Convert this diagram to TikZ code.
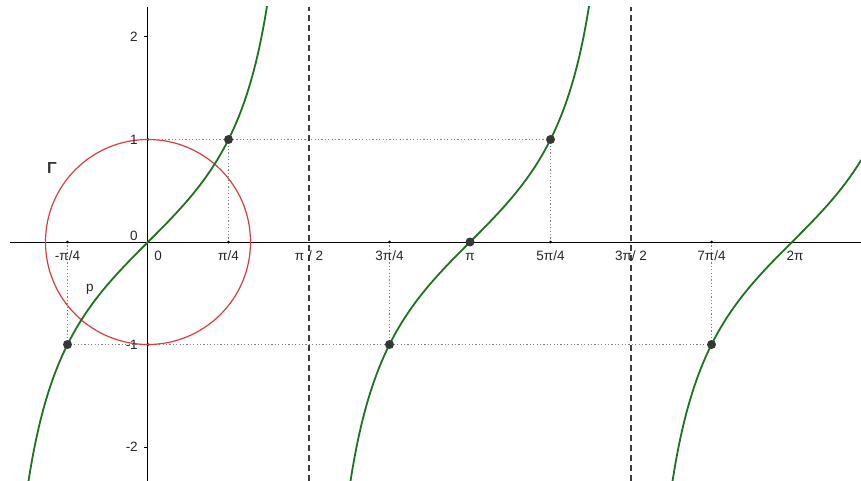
\documentclass[tikz,border=0pt]{standalone}
\usepackage{fontspec}
\setmainfont{Liberation Sans}
\definecolor{curvegreen}{RGB}{30,115,30}
\definecolor{circred}{RGB}{222,60,60}
\definecolor{ptgray}{RGB}{55,55,55}
\definecolor{dotgray}{RGB}{130,130,130}
\definecolor{asygray}{RGB}{60,60,60}
\begin{document}
\begin{tikzpicture}[x=102.5bp,y=102.5bp,
  font=\fontsize{13.5bp}{16bp}\selectfont,
  axisline/.style={line width=1bp,black},
  asym/.style={line width=1.2bp,asygray,dash pattern=on 6bp off 4bp},
  guide/.style={line width=1bp,dotgray,dash pattern=on 1.2bp off 2.2bp},
  tanplot/.style={line width=1.8bp,curvegreen,smooth,samples=150},
  bigpt/.style={circle,fill=ptgray,inner sep=0pt,minimum size=9bp},
  smallpt/.style={circle,fill=black,inner sep=0pt,minimum size=3bp},
  xlab/.style={anchor=base,inner sep=0pt,text=black!85},
  ylab/.style={anchor=east,inner sep=0pt,text=black!85}]
\useasboundingbox (-1.4439,-2.3317) rectangle (6.9561,2.3610);
\fill[white] (-1.4439,-2.3317) rectangle (6.9561,2.3610);
% guides
\draw[guide] (0,1) -- (5*pi/4,1);
\draw[guide] (-pi/4,-1) -- (7*pi/4,-1);
\draw[guide] (pi/4,0) -- (pi/4,1);
\draw[guide] (5*pi/4,0) -- (5*pi/4,1);
\draw[guide] (-pi/4,0) -- (-pi/4,-1);
\draw[guide] (3*pi/4,0) -- (3*pi/4,-1);
\draw[guide] (7*pi/4,0) -- (7*pi/4,-1);
% asymptotes
\draw[asym] (pi/2,-2.3317) -- (pi/2,2.293);
\draw[asym] (3*pi/2,-2.3317) -- (3*pi/2,2.293);
% axes
\draw[axisline] (-1.346,0) -- (6.9561,0);
\draw[axisline] (0,-2.3317) -- (0,2.293);
\foreach \yy in {-2,-1,1,2} \draw[line width=1bp] (-0.035,\yy) -- (0,\yy);
\foreach \xx in {-1,1,3,5,7} \node[smallpt] at ({\xx*pi/4},0) {};
\node[smallpt] (p1) at (0,1) {};
\node[smallpt] (m1) at (0,-1) {};
% circle
\draw[circred,line width=1.2bp] (0,0) circle (1);
% tangent
\begin{scope}
\clip (-1.4439,-2.3317) rectangle (6.9561,2.293);
\draw[tanplot,domain=-1.2:1.2] plot (\x,{tan(\x r)});
\draw[tanplot,domain=pi-1.2:pi+1.2] plot (\x,{tan(\x r)});
\draw[tanplot,domain=2*pi-1.2:6.96] plot (\x,{tan(\x r)});
\end{scope}
% points
\node[bigpt] (A) at (pi/4,1) {};
\node[bigpt] (B) at (5*pi/4,1) {};
\node[bigpt] (C) at (-pi/4,-1) {};
\node[bigpt] (D) at (3*pi/4,-1) {};
\node[bigpt] (E) at (7*pi/4,-1) {};
\node[bigpt] (F) at (pi,0) {};
% x labels
\node[xlab] (lm) at (-pi/4,-0.176) {-π/4};
\node[xlab] (l0) at (0.098,-0.176) {0};
\node[xlab] (l1) at (pi/4,-0.176) {π/4};
\node[xlab] (l2) at (pi/2,-0.176) {π / 2};
\node[xlab] (l3) at (3*pi/4,-0.176) {3π/4};
\node[xlab] (l4) at (pi,-0.176) {π};
\node[xlab] (l5) at (5*pi/4,-0.176) {5π/4};
\node[xlab] (l6) at (3*pi/2,-0.176) {3π/ 2};
\node[xlab] (l7) at (7*pi/4,-0.176) {7π/4};
\node[xlab] (l8) at (2*pi+0.03,-0.176) {2π};
% y labels
\node[ylab] (y2) at (-0.098,2) {2};
\node[ylab] (y1) at (-0.098,1) {1};
\node[ylab] (y0) at (-0.098,0.059) {0};
\node[ylab] (ym1) at (-0.098,-1) {-1};
\node[ylab] (ym2) at (-0.098,-2) {-2};
% names
\node[font=\fontsize{16bp}{18bp}\selectfont\bfseries,text=black!80] (gam) at (-0.937,0.722) {Γ};
\node[text=black!85] (pl) at (-0.566,-0.459) {p};
\end{tikzpicture}
\end{document}
